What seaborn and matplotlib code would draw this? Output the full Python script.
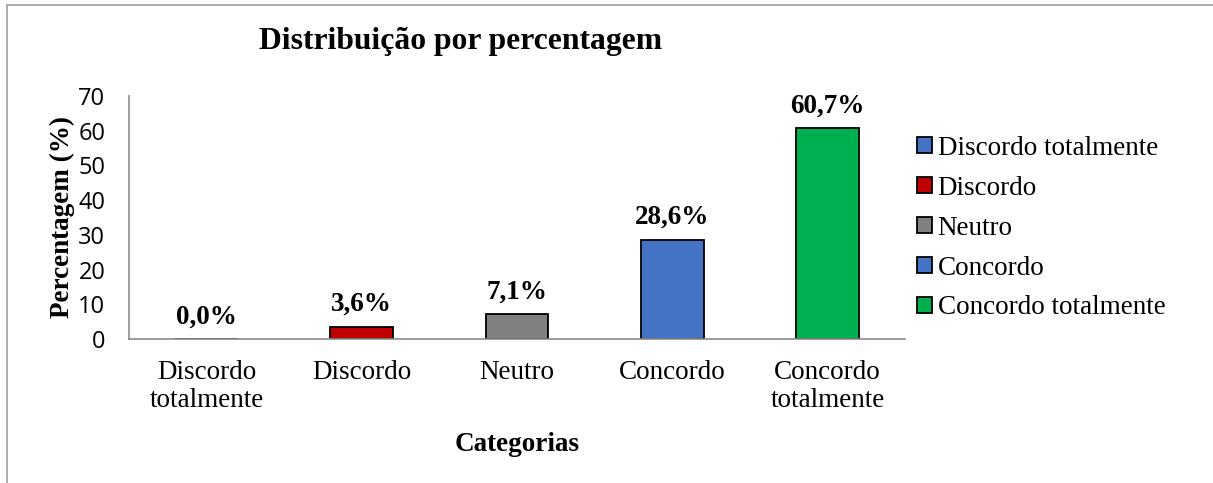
import matplotlib
matplotlib.use("Agg")
import matplotlib.pyplot as plt
from matplotlib.patches import Patch
from matplotlib.lines import Line2D
import seaborn as sns
import pandas as pd

categories = ["Discordo totalmente", "Discordo", "Neutro", "Concordo", "Concordo totalmente"]
tick_labels = ["Discordo\ntotalmente", "Discordo", "Neutro", "Concordo", "Concordo\ntotalmente"]
percentages = [0.0, 3.6, 7.1, 28.6, 60.7]
colors = ["#4472C4", "#C00000", "#808080", "#4472C4", "#00B050"]
y_ticks = [0, 10, 20, 30, 40, 50, 60, 70]

sns.set_theme(style="white")
serif = ["Liberation Serif", "DejaVu Serif"]
plt.rcParams["font.family"] = serif
plt.rcParams["text.color"] = "black"
plt.rcParams["axes.labelcolor"] = "black"
plt.rcParams["xtick.color"] = "black"
plt.rcParams["ytick.color"] = "black"

df = pd.DataFrame({"categoria": categories, "percentagem": percentages})

fig = plt.figure(figsize=(12.13, 4.83), dpi=100)
ax = fig.add_axes([129 / 1213, 1 - 339 / 483, (905 - 129) / 1213, (339 - 96) / 483])

sns.barplot(data=df, x="categoria", y="percentagem", hue="categoria",
            palette=colors, order=categories, hue_order=categories,
            width=0.404, edgecolor="black", linewidth=1.3, legend=False,
            saturation=1, ax=ax)

ax.set_ylim(0, 70)
ax.set_xlim(-0.5, len(categories) - 0.5)
ax.set_yticks(y_ticks)
ax.set_yticklabels([str(t) for t in y_ticks], fontfamily="Open Sans", fontsize=17, color="black")
ax.set_xticks(range(len(categories)))
ax.set_xticklabels(tick_labels, fontsize=19.5, linespacing=1.15)
ax.tick_params(axis="both", length=0)
ax.tick_params(axis="x", pad=15)
ax.tick_params(axis="y", pad=17)

for side in ["top", "right"]:
    ax.spines[side].set_visible(False)
for side in ["left", "bottom"]:
    ax.spines[side].set_color("#8C8C8C")
    ax.spines[side].set_linewidth(1.2)

ax.set_xlabel("Categorias", fontsize=19.5, fontweight="bold", labelpad=14)
ax.set_ylabel("Percentagem (%)", fontsize=19.5, fontweight="bold", labelpad=2)

for i, v in enumerate(percentages):
    label = f"{v:.1f}%".replace(".", ",")
    ax.annotate(label, xy=(i, v), xytext=(0, 7), textcoords="offset points",
                ha="center", va="bottom", fontsize=19.5, fontweight="bold")

fig.text(461 / 1213, 1 - 42 / 483, "Distribuição por percentagem",
         ha="center", va="center", fontsize=22.8, fontweight="bold")

handles = [Patch(facecolor=c, edgecolor="black", linewidth=1.3) for c in colors]
leg = fig.legend(handles, categories, loc="upper left",
                 bbox_to_anchor=(906 / 1213, 1 - 125 / 483),
                 frameon=False, fontsize=19.5, handlelength=0.55, handleheight=0.55,
                 handletextpad=0.22, labelspacing=0.55, borderaxespad=0)

# outer chart border
fig.add_artist(Line2D([7 / 1213, 7 / 1213], [0, 1 - 5 / 483], transform=fig.transFigure,
                      color="#A0A0A0", linewidth=1.2))
fig.add_artist(Line2D([7 / 1213, 1], [1 - 5 / 483, 1 - 5 / 483], transform=fig.transFigure,
                      color="#A0A0A0", linewidth=1.2))

fig.savefig("out.png", dpi=100)
